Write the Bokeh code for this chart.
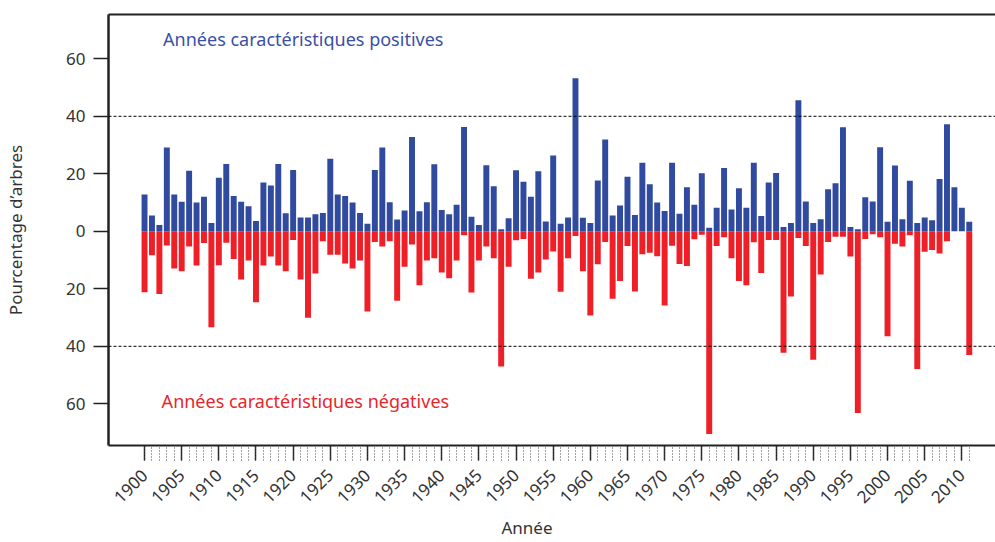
from math import pi
from bokeh.plotting import figure
from bokeh.models import (FixedTicker, Span, Label, LinearAxis, Range1d, Title)
from bokeh.embed import file_html
from bokeh.resources import INLINE

years = list(range(1900, 2012))
positive = [
    12.8, 5.5, 2.2, 29.1, 12.8, 10.3, 21.1, 10.0, 12.0, 2.9,
    18.6, 23.4, 12.3, 10.3, 8.7, 3.6, 17.0, 15.9, 23.4, 6.3,
    21.3, 4.8, 4.8, 5.9, 6.4, 25.2, 12.8, 12.3, 10.0, 6.4,
    2.6, 21.3, 29.1, 10.1, 4.1, 7.2, 32.8, 7.0, 10.1, 23.3,
    7.4, 5.9, 9.2, 36.3, 5.1, 2.2, 23.0, 15.7, 0.7, 4.5,
    21.2, 17.2, 12.0, 20.9, 3.4, 26.4, 2.6, 4.8, 53.2, 4.7,
    2.9, 17.7, 31.9, 5.5, 9.0, 19.0, 5.7, 23.8, 16.4, 10.0,
    7.1, 23.8, 6.1, 15.3, 9.2, 20.2, 1.2, 8.2, 22.0, 7.6,
    15.0, 8.2, 23.8, 5.3, 17.0, 20.3, 1.5, 2.9, 45.6, 10.4,
    2.9, 4.2, 14.6, 16.7, 36.2, 1.5, 0.7, 11.8, 10.4, 29.2,
    3.3, 22.9, 4.2, 17.6, 2.9, 4.8, 3.8, 18.2, 37.2, 15.3,
    8.2, 3.3]
negative = [
    21.2, 8.3, 21.8, 4.9, 12.9, 13.9, 5.3, 11.9, 4.1, 33.4,
    11.8, 4.0, 9.6, 16.8, 10.2, 24.7, 11.9, 8.8, 11.9, 13.9,
    3.0, 16.8, 30.1, 14.7, 3.5, 8.2, 8.2, 11.2, 12.9, 10.2,
    27.9, 3.7, 5.3, 3.5, 24.2, 12.3, 4.6, 18.8, 10.2, 9.4,
    14.3, 16.3, 10.2, 1.4, 21.3, 10.2, 5.3, 9.4, 47.0, 12.3,
    3.1, 2.7, 16.5, 14.3, 9.8, 7.0, 21.0, 9.4, 1.6, 13.9,
    29.3, 11.5, 3.7, 23.5, 17.3, 5.1, 20.9, 8.0, 7.5, 8.7,
    25.8, 5.0, 11.4, 12.1, 2.8, 1.2, 70.5, 5.1, 2.1, 9.4,
    17.3, 18.8, 3.8, 14.5, 3.0, 3.0, 42.2, 22.7, 2.3, 5.1,
    44.7, 15.0, 3.7, 1.9, 1.9, 8.8, 63.2, 2.7, 1.0, 2.1,
    36.5, 4.3, 5.3, 1.4, 47.9, 7.1, 6.5, 7.7, 3.5, 0.0,
    0.0, 43.0]
neg_vals = [-v for v in negative]
major_years = list(range(1900, 2011, 5))
y_ticks = [-60, -40, -20, 0, 20, 40, 60]

FONT = "Noto Sans"
BLUE = "#2f4a9f"
RED = "#ee1f26"
TXT = "#333333"

p = figure(width=995, height=542, output_backend="svg", toolbar_location=None,
           x_range=Range1d(1895.15, 2014.53), y_range=Range1d(-74.5, 75.4),
           min_border_left=108, min_border_right=0, min_border_top=14,
           min_border_bottom=97)
p.outline_line_color = None
p.xgrid.visible = False
p.ygrid.visible = False
p.background_fill_color = "white"

p.vbar(x=years, top=positive, bottom=0, width=0.8, fill_color=BLUE, line_color=None)
p.vbar(x=years, top=0, bottom=neg_vals, width=0.8, fill_color=RED, line_color=None)

for loc in (40, -40):
    p.add_layout(Span(location=loc, dimension="width", line_color="black",
                      line_width=1, line_dash="3 2"))

# x axis
xa = p.xaxis[0]
xa.ticker = FixedTicker(ticks=major_years, minor_ticks=years)
xa.axis_line_color = "#222222"
xa.axis_line_width = 2
xa.major_tick_out = 15
xa.major_tick_in = 0
xa.major_tick_line_width = 1.5
xa.major_tick_line_color = "#222222"
xa.minor_tick_out = 15
xa.minor_tick_in = 0
xa.minor_tick_line_dash = "1 2"
xa.minor_tick_line_color = "#444444"
xa.major_label_orientation = pi / 4
xa.major_label_text_font = FONT
xa.major_label_text_font_size = "17px"
xa.major_label_text_color = TXT
xa.major_label_standoff = 12

# x axis title, placed under the tick labels
p.add_layout(Title(text="Année", align="left", offset=393, standoff=4,
                   text_font=FONT, text_font_size="17px",
                   text_font_style="normal", text_color=TXT), "below")

# y axis
ya = p.yaxis[0]
ya.ticker = FixedTicker(ticks=y_ticks)
ya.major_label_overrides = {-60: "60", -40: "40", -20: "20"}
ya.axis_line_color = "#222222"
ya.axis_line_width = 2.5
ya.major_tick_out = 15
ya.major_tick_in = 0
ya.major_tick_line_color = "#222222"
ya.major_tick_line_width = 1.5
ya.minor_tick_line_color = None
ya.major_label_text_font = FONT
ya.major_label_text_font_size = "17px"
ya.major_label_text_color = TXT
ya.major_label_standoff = 8
ya.axis_label = "Pourcentage d’arbres"
ya.axis_label_text_font = FONT
ya.axis_label_text_font_size = "17px"
ya.axis_label_text_font_style = "normal"
ya.axis_label_text_color = TXT
ya.axis_label_standoff = 36

# top frame line
top = LinearAxis(ticker=FixedTicker(ticks=[]), axis_line_color="#222222",
                 axis_line_width=2, major_tick_line_color=None,
                 minor_tick_line_color=None, major_label_text_font_size="0px")
p.add_layout(top, "above")

p.add_layout(Label(x=1902.5, y=67.0, text="Années caractéristiques positives",
                   text_font=FONT, text_font_size="18px", text_color="#3a4fa5",
                   text_baseline="middle", text_align="left"))
p.add_layout(Label(x=1902.3, y=-59.0, text="Années caractéristiques négatives",
                   text_font=FONT, text_font_size="18px", text_color="#e8262b",
                   text_baseline="middle", text_align="left"))

open("out.html", "w").write(file_html(p, INLINE))
